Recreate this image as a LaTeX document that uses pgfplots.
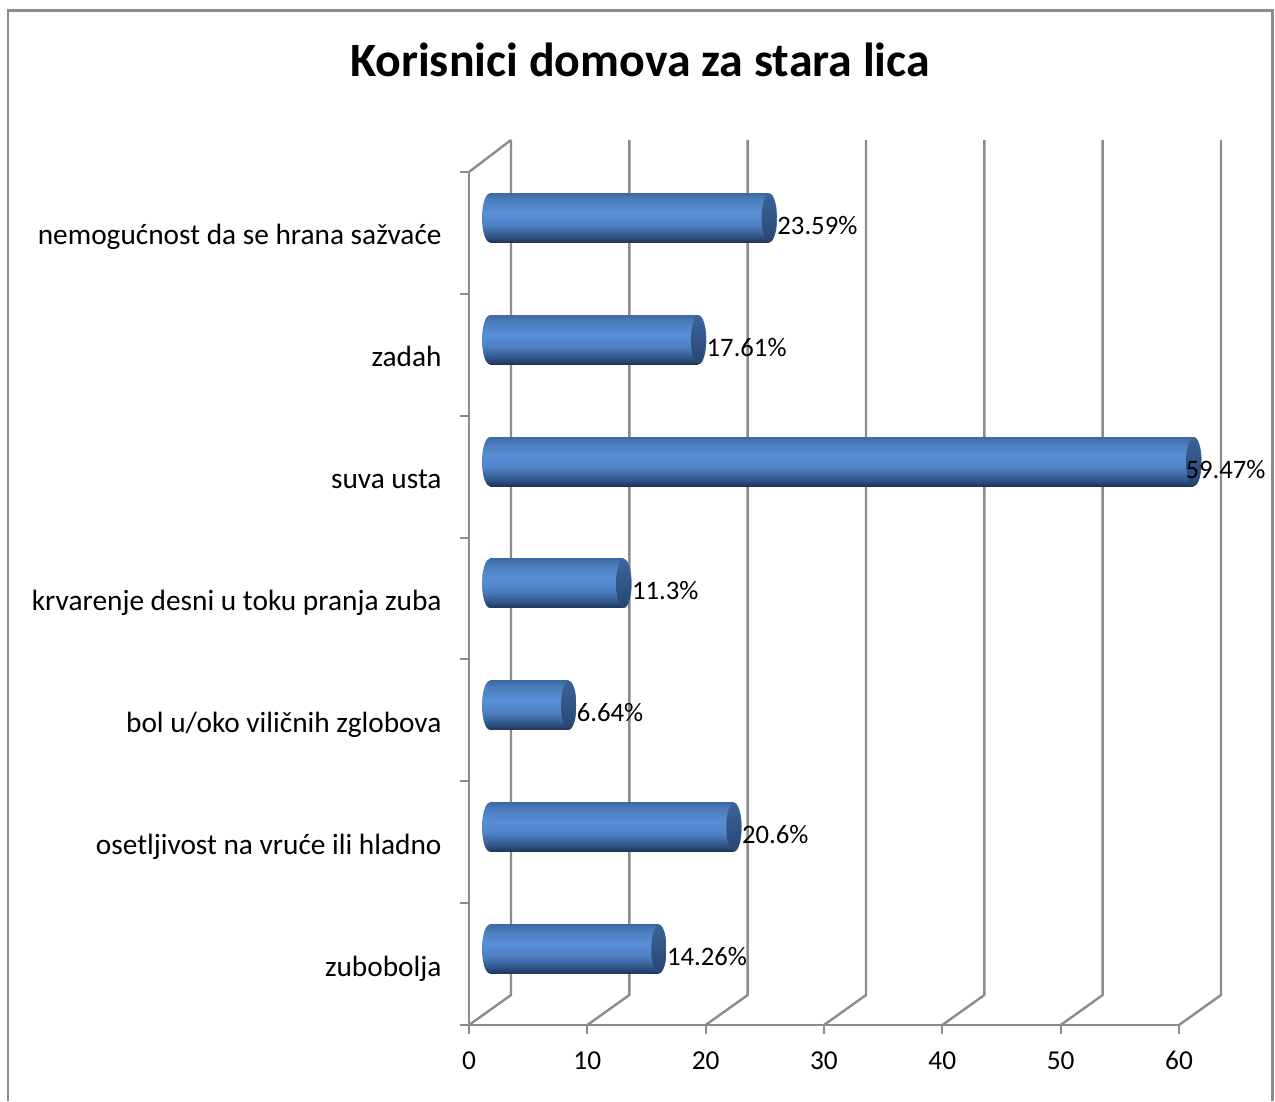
\documentclass[border=0pt]{standalone}
\usepackage{pgfplots}
\pgfplotsset{compat=1.18}
\usepackage{fontspec}
\setmainfont{Carlito}
\definecolor{axgray}{HTML}{8C8C8C}
\definecolor{ta}{RGB}{30,52,86}
\definecolor{tb}{RGB}{47,84,134}
\definecolor{tc}{RGB}{78,128,194}
\definecolor{td}{RGB}{89,143,216}
\definecolor{te}{RGB}{76,126,190}
\definecolor{tf}{RGB}{62,106,165}
\definecolor{ca}{RGB}{39,70,111}
\definecolor{cb}{RGB}{60,100,152}
\pgfdeclareverticalshading{tube}{100bp}{%
 color(0bp)=(ta); color(25bp)=(ta); color(31bp)=(tb); color(43bp)=(tc);
 color(55bp)=(td); color(68bp)=(te); color(75bp)=(tf); color(100bp)=(tf)}
\pgfdeclareverticalshading{tubecap}{100bp}{%
 color(0bp)=(ca); color(25bp)=(ca); color(75bp)=(cb); color(100bp)=(cb)}
\pgfdeclareplotmark{tubeend}{%
 \pgfpathellipse{\pgfpointorigin}{\pgfqpoint{6pt}{0pt}}{\pgfqpoint{0pt}{18.4pt}}%
 \pgfshadepath{tube}{0}\pgfusepath{discard}}
\pgfdeclareplotmark{tubeface}{%
 \pgfpathellipse{\pgfpointorigin}{\pgfqpoint{5.6pt}{0pt}}{\pgfqpoint{0pt}{18.2pt}}%
 \pgfshadepath{tubecap}{0}\pgfusepath{discard}}
\pgfplotstableread{
v y
14.26 0
20.6 1
6.64 2
11.3 3
59.47 4
17.61 5
23.59 6
}\bars
\pgfplotstableread{
v y
14.26 0
20.6 1
6.64 2
11.3 3
17.61 5
23.59 6
}\labelsA
\pgfplotstableread{
v y
59.47 4
}\labelsB
\pgfplotstableread{
v y
0 0
0 1
0 2
0 3
0 4
0 5
0 6
}\starts
\pgfplotsset{tubebar/.style={xbar,bar width=36.75pt,bar shift=0pt,draw=none,shade,shading=tube,xshift=15.75pt,yshift=11.3pt,forget plot}}
\begin{document}
\begin{tikzpicture}[x=0.75pt,y=0.75pt]
\useasboundingbox (-469,-76) rectangle (806,1025);
\draw[axgray,line width=1.6pt] (-461,-76) -- (-461,1014.5) -- (803.5,1014.5) -- (803.5,-76);
\begin{axis}[
  at={(0,0)},anchor=south west,
  scale only axis,width=532.5pt,height=639.75pt,
  xmin=0,xmax=60,ymin=-0.5,ymax=6.5,clip=false,
  axis x line=bottom,axis y line=left,
  axis line style={-,axgray,line width=1.8pt},
  tick style={axgray,line width=1.4pt},
  major tick length=6.5pt,
  tick align=outside,
  xtick={0,10,...,60},
  ytick={-0.5,0.5,...,6.5},yticklabels={},
  extra y ticks={0,1,2,3,4,5,6},
  extra y tick labels={zubobolja,osetljivost na vruće ili hladno,bol u/oko viličnih zglobova,krvarenje desni u toku pranja zuba,suva usta,zadah,nemogućnost da se hrana sažvaće},
  extra y tick style={major tick length=0pt,
    yticklabel style={anchor=east,inner sep=0pt,xshift=-20.4pt,text height=22pt,text depth=4pt,font=\fontsize{22}{26}\selectfont}},
  xticklabel style={anchor=center,inner sep=0pt,yshift=-20pt,font=\fontsize{20.5}{24}\selectfont},
  /pgf/number format/assume math mode=true,
  title={\fontsize{35.9}{42}\selectfont\bfseries Korisnici domova za stara lica},
  title style={at={(0.2408,1.122)},anchor=center,inner sep=0pt},
  nodes near coords style={font=\fontsize{20}{24}\selectfont,anchor=west,inner sep=0pt},
]
% back wall and floor lines
\pgfplotsinvokeforeach{0,10,20,30,40,50,60}{
  \addplot[axgray,line width=1.8pt,line join=round] coordinates {(#1,-0.5) (#1+3.55,-0.254) (#1+3.55,6.7626)};
}
\addplot[axgray,line width=1.8pt] coordinates {(0,6.5) (3.55,6.7626)};
% cylinders
\addplot[only marks,mark=tubeend,xshift=15.75pt,yshift=11.3pt] table[x=v,y=y] {\starts};
\addplot[tubebar] coordinates {(14.26,0)};
\addplot[tubebar] coordinates {(20.6,1)};
\addplot[tubebar] coordinates {(6.64,2)};
\addplot[tubebar] coordinates {(11.3,3)};
\addplot[tubebar] coordinates {(59.47,4)};
\addplot[tubebar] coordinates {(17.61,5)};
\addplot[tubebar] coordinates {(23.59,6)};
\addplot[only marks,mark=tubeend,xshift=15.75pt,yshift=11.3pt] table[x=v,y=y] {\bars};
\addplot[only marks,mark=tubeface,xshift=15.75pt,yshift=11.3pt] table[x=v,y=y] {\bars};
% value labels
\addplot[draw=none,mark=none,point meta=x,xshift=21.8pt,yshift=5.7pt,
  nodes near coords={\pgfmathprintnumber[fixed,precision=2]{\pgfplotspointmeta}\%}] table[x=v,y=y] {\labelsA};
\addplot[draw=none,mark=none,point meta=x,xshift=9.4pt,yshift=5.7pt,
  nodes near coords={\pgfmathprintnumber[fixed,precision=2]{\pgfplotspointmeta}\%}] table[x=v,y=y] {\labelsB};
\end{axis}
\end{tikzpicture}
\end{document}
